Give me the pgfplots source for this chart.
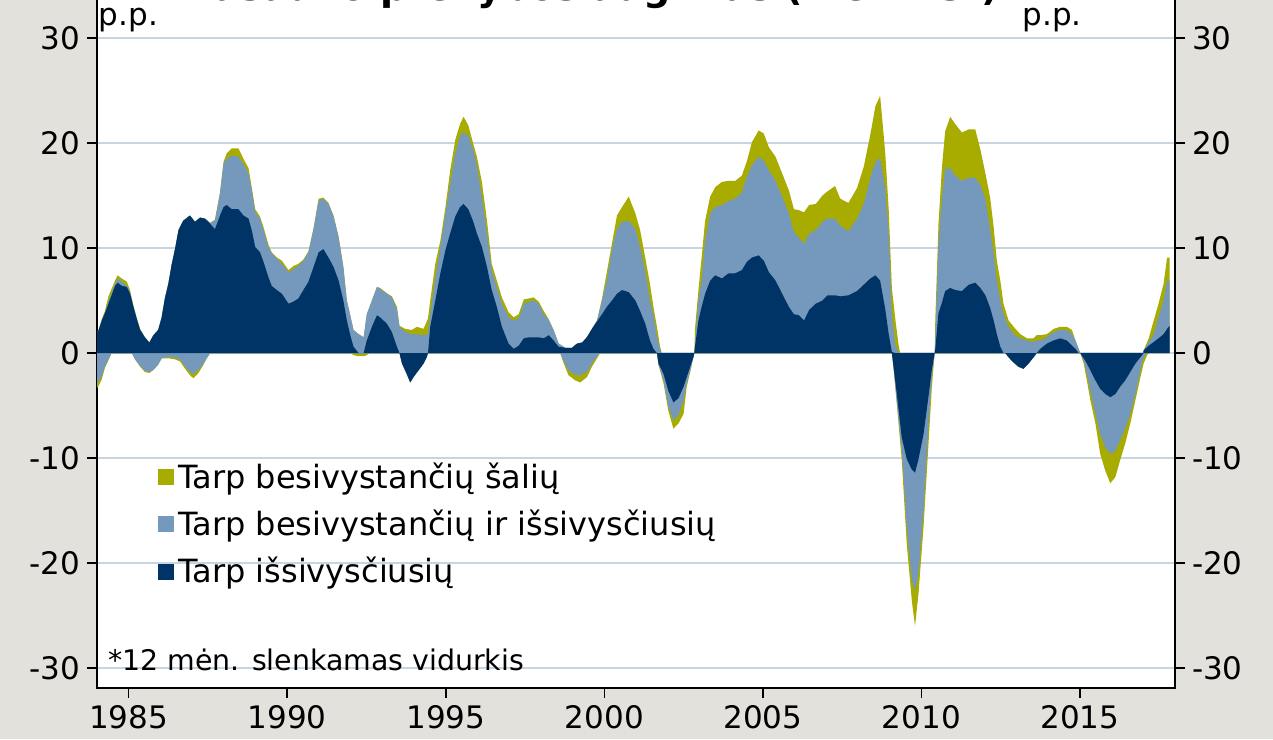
\documentclass[border=0pt]{standalone}
\usepackage{pgfplots}
\pgfplotsset{compat=1.18}
\usepackage{pgfplotstable}
\usepackage{fontspec}
\setmainfont{DejaVu Sans}
\definecolor{navyc}{RGB}{0,51,102}
\definecolor{bluec}{RGB}{116,153,188}
\definecolor{olivec}{RGB}{168,172,0}
\definecolor{bgc}{RGB}{227,225,220}
\definecolor{gridc}{RGB}{200,213,222}

% positive envelopes: p1 = navy top, p2 = navy+blue top, p3 = total top
\pgfplotstableread{
x p1 p2 p3
1984.00 2.0 2.0 2.0
1984.04 2.1 2.1 2.1
1984.15 3.1 3.1 3.2
1984.25 3.8 3.8 4.0
1984.36 4.7 4.9 5.4
1984.57 6.4 6.6 6.9
1984.65 6.7 7.1 7.4
1984.78 6.4 6.8 7.1
1984.94 6.3 6.4 6.8
1985.04 5.7 5.8 6.0
1985.15 4.4 4.4 4.5
1985.25 3.3 3.3 3.4
1985.36 2.2 2.2 2.3
1985.51 1.5 1.5 1.5
1985.65 1.0 1.0 1.0
1985.78 1.7 1.7 1.7
1985.93 2.2 2.2 2.2
1986.04 3.4 3.4 3.4
1986.14 5.2 5.2 5.2
1986.25 6.6 6.6 6.6
1986.36 8.5 8.5 8.5
1986.46 9.9 9.9 9.9
1986.57 11.7 11.7 11.7
1986.72 12.6 12.6 12.6
1986.93 13.1 13.1 13.1
1987.09 12.5 12.5 12.5
1987.25 12.9 12.9 12.9
1987.41 12.8 12.8 12.8
1987.57 12.3 12.4 12.4
1987.72 11.8 12.6 12.7
1987.88 13.1 15.2 15.3
1987.99 13.9 18.0 18.2
1988.09 14.1 18.5 19.0
1988.25 13.7 18.8 19.5
1988.46 13.7 18.7 19.5
1988.62 13.1 18.0 18.5
1988.78 12.8 17.1 17.6
1988.88 11.7 15.5 15.8
1988.99 10.1 13.4 13.7
1989.14 9.6 12.8 13.0
1989.25 8.7 11.7 12.0
1989.41 7.2 10.1 10.3
1989.51 6.4 9.5 9.6
1989.67 6.0 9.0 9.1
1989.83 5.65 8.5 8.8
1990.04 4.7 7.7 7.9
1990.20 4.9 8.0 8.3
1990.35 5.2 8.3 8.5
1990.51 6.0 8.8 8.9
1990.67 6.8 9.6 9.7
1990.83 8.2 11.8 11.9
1990.99 9.6 14.5 14.7
1991.14 9.9 14.7 14.8
1991.30 9.1 14.2 14.3
1991.46 8.2 13.0 13.1
1991.62 6.9 11.0 11.1
1991.77 5.0 8.2 8.2
1991.88 3.1 5.0 5.0
1991.98 1.8 3.7 3.7
1992.09 0.6 2.2 2.2
1992.25 0 1.8 1.8
1992.41 0 1.5 1.5
1992.51 1.2 3.7 3.7
1992.67 2.5 5.0 5.0
1992.83 3.6 6.3 6.3
1992.93 3.4 6.1 6.2
1993.14 2.8 5.65 5.7
1993.30 2.0 5.3 5.4
1993.46 0.6 4.2 4.4
1993.54 0 2.5 2.6
1993.72 0 2.0 2.3
1993.93 0 1.8 2.2
1994.09 0 1.8 2.5
1994.30 0 1.7 2.3
1994.44 0 1.8 3.3
1994.51 2.5 3.7 5.0
1994.67 5.0 7.2 8.5
1994.83 7.6 10.1 10.7
1994.99 9.8 13.3 13.9
1995.14 11.4 16.1 17.4
1995.30 13.0 19.0 20.3
1995.45 13.9 20.7 21.8
1995.56 14.2 21.0 22.5
1995.71 13.7 20.7 21.7
1995.87 12.5 19.3 19.9
1995.98 11.4 17.9 18.7
1996.14 10.1 14.9 16.3
1996.30 8.2 11.4 12.6
1996.45 6.0 7.9 8.5
1996.61 4.4 6.3 6.9
1996.77 2.5 4.7 5.3
1996.98 0.9 3.4 3.9
1997.14 0.4 3.1 3.4
1997.30 0.7 3.3 3.7
1997.46 1.4 4.7 5.1
1997.62 1.5 4.9 5.2
1997.77 1.5 5.0 5.3
1997.93 1.5 4.7 4.9
1998.09 1.4 3.7 4.0
1998.25 1.7 3.1 3.2
1998.40 1.2 2.2 2.2
1998.56 0.6 0.9 0.9
1998.77 0.5 0.5 0.5
1998.98 0.5 0.5 0.5
1999.14 0.9 0.9 0.9
1999.30 1.0 1.0 1.0
1999.45 1.5 1.5 1.5
1999.61 2.3 2.3 2.3
1999.77 3.0 3.1 3.1
1999.93 3.7 5.0 5.2
2000.08 4.4 6.9 7.7
2000.24 5.0 9.8 10.4
2000.40 5.65 11.8 13.1
2000.56 6.0 12.5 13.9
2000.77 5.8 12.6 14.9
2000.98 5.0 11.8 13.3
2001.13 4.0 10.1 11.7
2001.29 2.8 7.8 9.1
2001.44 1.2 5.0 6.6
2001.55 0.4 3.7 4.4
2001.66 0 1.5 2.5
2001.76 0 0.4 0.6
2001.81 0 0 0
2002.84 0 0 0
2002.86 0.6 0.9 2.3
2002.97 3.1 5.0 6.0
2003.07 4.4 6.9 9.1
2003.18 5.65 10.7 12.6
2003.34 6.9 13.3 14.9
2003.50 7.4 13.9 15.8
2003.71 7.1 14.1 16.3
2003.92 7.6 14.5 16.4
2004.13 7.6 14.7 16.4
2004.34 7.9 15.3 16.9
2004.50 8.7 16.8 18.3
2004.66 9.1 17.9 20.1
2004.87 9.3 18.7 21.2
2005.03 8.8 18.3 20.9
2005.19 7.7 17.4 19.6
2005.40 6.9 16.4 18.7
2005.61 5.65 14.9 17.1
2005.82 4.4 13.3 15.5
2005.98 3.7 11.5 13.7
2006.14 3.6 11.0 13.6
2006.30 3.1 10.4 13.4
2006.46 4.1 11.4 14.1
2006.67 4.7 11.7 14.2
2006.88 5.0 12.5 15.0
2007.04 5.5 12.8 15.4
2007.28 5.5 12.8 15.9
2007.44 5.4 12.1 14.7
2007.70 5.5 11.6 14.3
2007.97 5.9 12.8 15.7
2008.18 6.5 14.2 17.7
2008.39 7.1 16.7 20.8
2008.55 7.4 18.2 23.5
2008.70 6.9 18.6 24.5
2008.86 4.2 15.7 19.1
2008.97 1.8 11.3 13.7
2009.07 0.1 3.8 6.2
2009.18 0 0.8 3.2
2009.28 0 0 0.8
2009.33 0 0 0
2010.42 0 0 0
2010.44 0.4 1.5 3.2
2010.54 3.8 10.3 12.3
2010.65 4.8 14.7 17.7
2010.75 5.9 17.6 21.1
2010.91 6.2 17.6 22.5
2011.07 6.0 16.9 21.8
2011.28 5.9 16.4 21.0
2011.49 6.5 16.7 21.3
2011.70 6.7 16.7 21.3
2011.86 6.2 16.0 19.4
2012.02 5.5 14.7 17.1
2012.17 4.3 11.8 14.8
2012.28 3.1 9.5 12.0
2012.38 1.8 6.9 8.8
2012.49 0.6 5.0 6.9
2012.59 0 3.7 4.7
2012.75 0 2.5 3.1
2012.91 0 1.8 2.5
2013.12 0 1.4 1.8
2013.33 0 1.2 1.4
2013.54 0 1.05 1.4
2013.64 0 1.2 1.7
2013.75 0.4 1.2 1.7
2013.96 0.9 1.5 1.8
2014.17 1.2 2.0 2.3
2014.38 1.4 2.2 2.5
2014.59 1.2 2.2 2.5
2014.75 0.7 1.8 2.2
2014.86 0.4 1.2 1.2
2014.96 0 0.4 0.4
2015.01 0 0 0
2017.00 0 0 0
2017.01 0.25 0.25 0.25
2017.17 0.7 1.0 1.4
2017.33 1.05 1.8 3.1
2017.48 1.4 3.4 4.7
2017.64 1.8 5.0 6.6
2017.75 2.3 6.9 9.1
2017.83 2.6 6.9 9.1
}\postab

% negative envelopes: n1 = navy bottom, n2 = navy+blue bottom, n3 = total bottom
\pgfplotstableread{
x n1 n2 n3
1984.00 0 -2.8 -3.3
1984.04 0 -2.8 -3.2
1984.15 0 -2.2 -2.5
1984.25 0 -1.3 -1.4
1984.36 0 -0.6 -0.7
1984.46 0 0 0
1985.10 0 0 0
1985.20 0 -0.6 -0.6
1985.36 0 -1.2 -1.3
1985.51 0 -1.7 -1.8
1985.65 0 -1.8 -1.9
1985.78 0 -1.6 -1.6
1985.93 0 -1.1 -1.1
1986.04 0 -0.5 -0.5
1986.25 0 -0.35 -0.5
1986.46 0 -0.45 -0.6
1986.62 0 -0.6 -0.8
1986.78 0 -1.3 -1.5
1986.93 0 -1.8 -2.1
1987.04 0 -2.0 -2.4
1987.20 0 -1.6 -1.9
1987.36 0 -1.0 -1.1
1987.46 0 -0.5 -0.5
1987.57 0 0 0
1992.00 0 0 0
1992.09 0 0 -0.2
1992.25 0 -0.1 -0.3
1992.41 0 -0.1 -0.3
1992.51 0 0 -0.2
1992.60 0 0 0
1993.54 0 0 0
1993.62 -1.0 -1.0 -1.0
1993.77 -2.0 -2.0 -2.0
1993.88 -2.8 -2.8 -2.8
1993.98 -2.3 -2.3 -2.3
1994.14 -1.65 -1.65 -1.65
1994.30 -1.0 -1.0 -1.0
1994.40 -0.4 -0.4 -0.4
1994.44 0 0 0
1998.61 0 0 0
1998.71 0 -0.7 -0.9
1998.87 0 -1.65 -2.1
1999.08 0 -2.1 -2.6
1999.24 0 -2.1 -2.8
1999.45 0 -1.8 -2.3
1999.61 0 -1.0 -1.3
1999.77 0 -0.3 -0.5
1999.87 0 0 0
2001.66 0 0 0
2001.71 -1.0 -1.1 -1.1
2001.87 -2.0 -2.6 -2.9
2002.02 -3.6 -5.1 -5.5
2002.18 -4.7 -6.4 -7.2
2002.34 -4.3 -5.9 -6.7
2002.50 -3.2 -4.5 -5.8
2002.60 -2.3 -2.9 -3.2
2002.71 -1.3 -1.65 -1.8
2002.81 -0.4 -0.4 -0.4
2002.84 0 0 0
2009.07 0 0 0
2009.12 -1.25 -1.25 -1.3
2009.23 -4.0 -4.8 -5.0
2009.38 -8.0 -9.1 -10.1
2009.54 -10.1 -16.5 -18.2
2009.70 -11.1 -21.6 -23.6
2009.80 -11.4 -22.6 -26.0
2009.91 -10.1 -20.9 -22.9
2010.07 -7.7 -14.8 -16.5
2010.23 -4.0 -6.7 -8.4
2010.33 -1.6 -2.3 -3.3
2010.42 0 0 0
2012.65 0 0 0
2012.75 -0.4 -0.4 -0.4
2012.91 -0.9 -0.9 -0.9
2013.06 -1.3 -1.3 -1.3
2013.22 -1.5 -1.5 -1.5
2013.38 -1.0 -1.0 -1.0
2013.54 -0.4 -0.4 -0.4
2013.64 0 0 0
2015.01 0 0 0
2015.12 -0.5 -0.7 -1.0
2015.22 -1.0 -2.0 -2.6
2015.33 -1.65 -3.6 -4.5
2015.49 -2.6 -5.8 -6.7
2015.64 -3.4 -7.7 -9.6
2015.80 -3.9 -9.0 -11.2
2015.96 -4.2 -9.6 -12.4
2016.12 -3.9 -9.3 -11.8
2016.27 -3.2 -8.3 -10.2
2016.43 -2.6 -7.2 -8.6
2016.59 -1.8 -5.8 -6.7
2016.75 -1.0 -3.9 -4.5
2016.91 -0.4 -1.65 -2.3
2017.01 0 -0.4 -1.0
2017.12 0 0 -0.2
2017.18 0 0 0
}\negtab

\begin{document}
\begin{tikzpicture}
\useasboundingbox (0,0) rectangle (636.5pt,369.5pt);
\fill[bgc] (0,0) rectangle (636.5pt,369.5pt);
\clip (0,0) rectangle (636.5pt,369.5pt);
\begin{axis}[
  at={(48.5pt,25.5pt)}, anchor=south west,
  scale only axis, width=539pt, height=356.475pt,
  xmin=1984, xmax=2018, ymin=-31.9, ymax=36,
  axis background/.style={fill=white},
  xtick={1985,1990,1995,2000,2005,2010,2015},
  xticklabels={1985,1990,1995,2000,2005,2010,2015},
  ytick={-30,-20,-10,0,10,20,30},
  yticklabels={-30,-20,-10,0,10,20,30},
  xtick pos=bottom, ytick pos=left,
  tick align=outside, major tick length=5pt,
  tick style={black, line width=0.75pt},
  axis line style={black, line width=0.75pt},
  tick label style={font=\fontsize{15.5}{18}\selectfont},
  ymajorgrids, grid style={gridc, line width=1pt},
  legend style={at={(axis cs:1985.92,-10.0)}, anchor=north west, draw=none, fill=none,
    font=\fontsize{16}{19}\selectfont, row sep=5.4pt, inner sep=0pt,
    nodes={inner sep=2pt}},
  legend cell align=left,
  legend image code/.code={\fill[#1] (0pt,-4pt) rectangle (8pt,4pt);},
]
\addplot[fill=olivec, draw=none] table[x=x, y=p3]{\postab} \closedcycle;
\addlegendentry{Tarp besivystančių šalių}
\addplot[fill=bluec, draw=none] table[x=x, y=p2]{\postab} \closedcycle;
\addlegendentry{Tarp besivystančių ir išsivysčiusių}
\addplot[fill=navyc, draw=none] table[x=x, y=p1]{\postab} \closedcycle;
\addlegendentry{Tarp išsivysčiusių}
\addplot[fill=olivec, draw=none, forget plot] table[x=x, y=n3]{\negtab} \closedcycle;
\addplot[fill=bluec, draw=none, forget plot] table[x=x, y=n2]{\negtab} \closedcycle;
\addplot[fill=navyc, draw=none, forget plot] table[x=x, y=n1]{\negtab} \closedcycle;
\node[anchor=base west, font=\fontsize{14.2}{16}\selectfont, inner sep=0pt] at (axis cs:1984.35,-30.2) {*12 mėn. slenkamas vidurkis};
\node[anchor=base west, font=\fontsize{15.5}{18}\selectfont, inner sep=0pt] at (axis cs:1984.05,31.2) {p.p.};
\node[anchor=base west, font=\fontsize{15.5}{18}\selectfont, inner sep=0pt] at (axis cs:2013.18,31.2) {p.p.};
\end{axis}
\begin{axis}[
  at={(48.5pt,25.5pt)}, anchor=south west,
  scale only axis, width=539pt, height=356.475pt,
  xmin=1984, xmax=2018, ymin=-31.9, ymax=36,
  axis x line=none, axis y line*=right,
  ytick={-30,-20,-10,0,10,20,30},
  yticklabels={-30,-20,-10,0,10,20,30},
  tick align=outside, major tick length=5pt,
  tick style={black, line width=0.75pt},
  axis line style={black, line width=0.75pt},
  tick label style={font=\fontsize{15.5}{18}\selectfont},
]
\end{axis}
\node[anchor=base east, font=\bfseries\fontsize{19}{22}\selectfont] at (503pt,369.4pt) {Pasaulio prekybos augimas (metinis*)};
\end{tikzpicture}
\end{document}
